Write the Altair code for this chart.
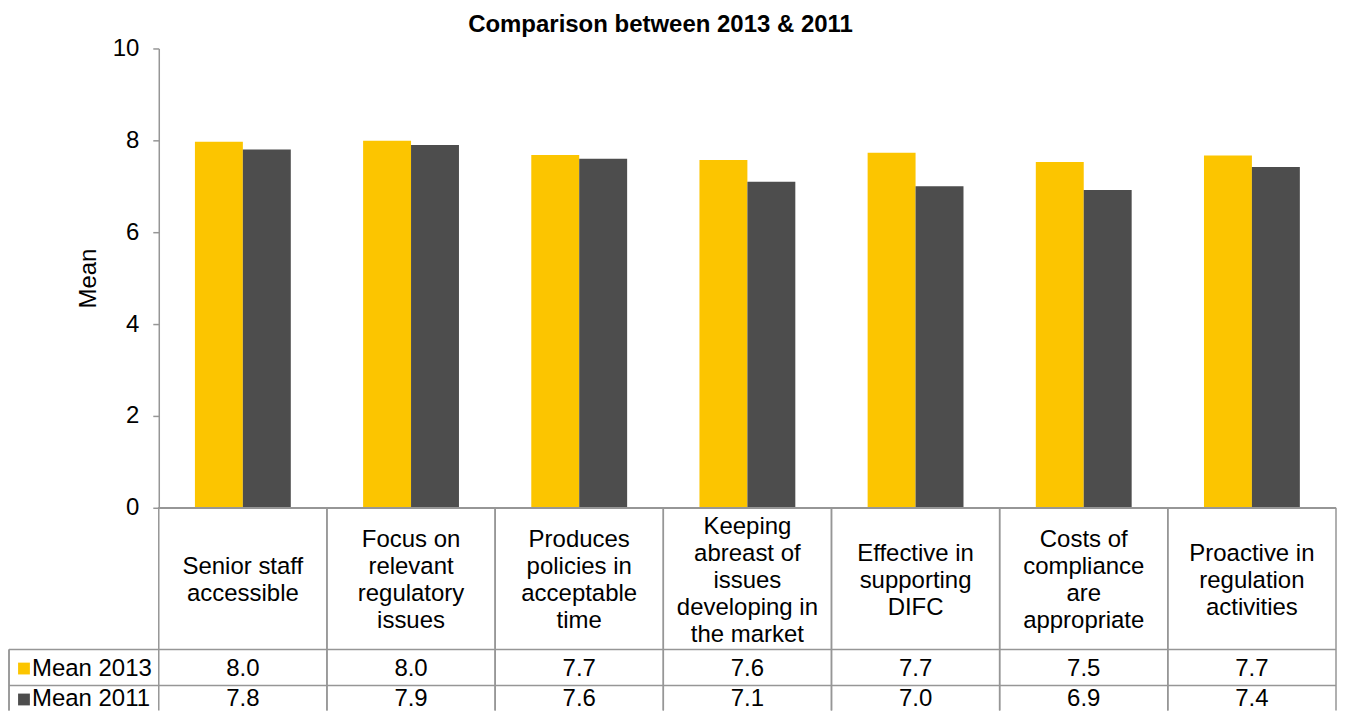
import altair as alt
import pandas as pd

# ---- data ----
categories = [
    "Senior staff accessible",
    "Focus on relevant regulatory issues",
    "Produces policies in acceptable time",
    "Keeping abreast of issues developing in the market",
    "Effective in supporting DIFC",
    "Costs of compliance are appropriate",
    "Proactive in regulation activities",
]
category_lines = [
    "Senior staff\naccessible",
    "Focus on\nrelevant\nregulatory\nissues",
    "Produces\npolicies in\nacceptable\ntime",
    "Keeping\nabreast of\nissues\ndeveloping in\nthe market",
    "Effective in\nsupporting\nDIFC",
    "Costs of\ncompliance\nare\nappropriate",
    "Proactive in\nregulation\nactivities",
]
series = ["Mean 2013", "Mean 2011"]
mean_2013 = [7.97, 7.99, 7.68, 7.57, 7.73, 7.53, 7.67]
mean_2011 = [7.80, 7.90, 7.60, 7.10, 7.00, 6.92, 7.42]
colors = ["#FCC500", "#4D4D4D"]

FONT = "Liberation Sans"
GRID = "#969696"
W = 1179
H_PLOT = 460
H_TABLE = 203
# table layout (pixels inside the table panel)
ROW_TOP = 142      # end of the category-label block
ROW_H = 36
LINE_H = 27

long = pd.DataFrame(
    [{"category": c, "series": series[0], "value": v} for c, v in zip(categories, mean_2013)]
    + [{"category": c, "series": series[1], "value": v} for c, v in zip(categories, mean_2011)]
)
row_center = {series[0]: ROW_TOP + ROW_H / 2 + 1, series[1]: ROW_TOP + ROW_H + 14}
long["row"] = long["series"].map(row_center)

# first-line position so that each wrapped label block is centred in the label area
labels = pd.DataFrame({
    "category": categories,
    "label": category_lines,
    "row": [ROW_TOP / 2 + 2 - (s.count("\n")) * LINE_H / 2 for s in category_lines],
})
legend_df = pd.DataFrame({"series": series, "row": [row_center[s] for s in series]})
hlines = pd.DataFrame({"row": [ROW_TOP, ROW_TOP + ROW_H]})
cats_df = pd.DataFrame({"category": categories})

color_scale = alt.Scale(domain=series, range=colors)

# ---- bar panel ----
bars = alt.Chart(long).mark_bar().encode(
    x=alt.X("category:N", sort=categories,
            scale=alt.Scale(paddingInner=0.43, paddingOuter=0.215), axis=None),
    xOffset=alt.XOffset("series:N", sort=series,
                        scale=alt.Scale(paddingInner=0, paddingOuter=0)),
    y=alt.Y("value:Q", scale=alt.Scale(domain=[0, 10], nice=False),
            axis=alt.Axis(values=[0, 2, 4, 6, 8, 10], title="Mean", grid=False,
                          domainColor=GRID, domainWidth=1.5, tickColor=GRID, tickWidth=1.5,
                          tickSize=6, labelPadding=14, labelFont=FONT, labelFontSize=24,
                          labelColor="#000000", titleFont=FONT, titleFontSize=24,
                          titleFontWeight="normal", titleColor="#000000", titlePadding=12)),
    color=alt.Color("series:N", scale=color_scale, legend=None),
).properties(width=W, height=H_PLOT)

# ---- data table panel ----
xt = alt.X("category:N", sort=categories,
           scale=alt.Scale(paddingInner=0, paddingOuter=0), axis=None)
yt = alt.Y("row:Q", scale=alt.Scale(domain=[0, H_TABLE], nice=False, zero=False, reverse=True),
           axis=None)

vlines_left = alt.Chart(cats_df).mark_rule(color=GRID, strokeWidth=1.5).encode(
    x=alt.X("category:N", sort=categories, bandPosition=0,
            scale=alt.Scale(paddingInner=0, paddingOuter=0), axis=None)
)
vlines_right = alt.Chart(cats_df).mark_rule(color=GRID, strokeWidth=1.5).encode(
    x=alt.X("category:N", sort=categories, bandPosition=1,
            scale=alt.Scale(paddingInner=0, paddingOuter=0), axis=None)
)
hrules = alt.Chart(hlines).mark_rule(color=GRID, strokeWidth=1.5).encode(
    y=yt, x=alt.value(-150), x2=alt.value(W)
)
top_rule = alt.Chart(cats_df).mark_rule(color=GRID, strokeWidth=1.5).encode(
    y=alt.value(0), x=alt.value(0), x2=alt.value(W)
)
left_border = alt.Chart(hlines).mark_rule(color=GRID, strokeWidth=1.5).encode(
    x=alt.value(-150), y=alt.value(ROW_TOP), y2=alt.value(H_TABLE)
)
label_text = alt.Chart(labels).mark_text(
    font=FONT, fontSize=24, lineBreak="\n", lineHeight=LINE_H, baseline="middle",
    align="center", color="#000000"
).encode(x=xt, y=yt, text="label:N")
value_text = alt.Chart(long).mark_text(
    font=FONT, fontSize=24, baseline="middle", align="center", color="#000000"
).encode(x=xt, y=yt, text=alt.Text("value:Q", format=".1f"))
legend_sq = alt.Chart(legend_df).mark_square(size=140, opacity=1).encode(
    x=alt.value(-135), y=yt, color=alt.Color("series:N", scale=color_scale, legend=None)
)
legend_txt = alt.Chart(legend_df).mark_text(
    font=FONT, fontSize=24, baseline="middle", align="left", color="#000000"
).encode(x=alt.value(-127), y=yt, text="series:N")

table = alt.layer(
    vlines_left, vlines_right, hrules, top_rule, left_border,
    label_text, value_text, legend_sq, legend_txt
).properties(width=W, height=H_TABLE)

chart = alt.vconcat(
    bars, table, spacing=0, bounds="flush",
    padding={"top": 5, "left": 0, "right": 0, "bottom": 0},
    title=alt.TitleParams("Comparison between 2013 & 2011", font=FONT, fontSize=24,
                          fontWeight="bold", color="#000000", anchor="middle",
                          dx=-12, dy=5),
).resolve_scale(x="independent", y="independent", color="shared").configure_view(stroke=None)

chart.save("out.html", embed_options={"renderer": "svg", "actions": False})
